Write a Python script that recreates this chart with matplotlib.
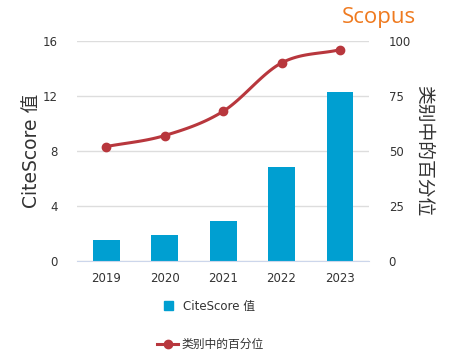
import matplotlib
matplotlib.use("Agg")
import matplotlib.pyplot as plt
from matplotlib.lines import Line2D
from matplotlib.patches import Patch
import numpy as np

plt.rcParams['font.family'] = ['DejaVu Sans', 'Noto Sans CJK SC']

years = ["2019", "2020", "2021", "2022", "2023"]
citescore = [1.5, 1.9, 2.9, 6.8, 12.3]
percentile = [52, 57, 68, 90, 96]

BAR_COLOR = "#009fd1"
LINE_COLOR = "#b8373d"
TEXT_COLOR = "#333333"


def smooth(xs, ys, n=30):
    # catmull-rom style curve through the points, only for drawing
    xs = np.asarray(xs, float)
    ys = np.asarray(ys, float)
    px = np.concatenate([[2 * xs[0] - xs[1]], xs, [2 * xs[-1] - xs[-2]]])
    py = np.concatenate([[2 * ys[0] - ys[1]], ys, [2 * ys[-1] - ys[-2]]])
    outx, outy = [], []
    for i in range(1, len(px) - 2):
        t = np.linspace(0, 1, n)
        for arr, out in ((px, outx), (py, outy)):
            p0, p1, p2, p3 = arr[i - 1], arr[i], arr[i + 1], arr[i + 2]
            out.extend(0.5 * ((2 * p1) + (-p0 + p2) * t
                              + (2 * p0 - 5 * p1 + 4 * p2 - p3) * t ** 2
                              + (-p0 + 3 * p1 - 3 * p2 + p3) * t ** 3))
    return np.array(outx), np.array(outy)


fig = plt.figure(figsize=(4.53, 3.59), dpi=100)
ax = fig.add_axes([0.170, 0.273, 0.645, 0.613])
x = np.arange(len(years))

ax.bar(x, citescore, width=0.46, color=BAR_COLOR, zorder=2)
ax.set_xlim(-0.5, 4.5)
ax.set_ylim(0, 16)
ax.set_yticks([0, 4, 8, 12, 16])
ax.set_xticks(x)
ax.set_xticklabels(years)
ax.grid(axis="y", color="#dddddd", linewidth=1, zorder=0)
for s in ["top", "right", "left"]:
    ax.spines[s].set_visible(False)
ax.spines["bottom"].set_color("#ccd6eb")
ax.tick_params(axis="both", length=0, labelsize=8.5, colors=TEXT_COLOR)
ax.tick_params(axis="y", pad=14)
ax.tick_params(axis="x", pad=8)
ax.set_ylabel("CiteScore 值", fontsize=13.5, color=TEXT_COLOR, labelpad=1)

ax2 = ax.twinx()
ax2.set_ylim(0, 100)
ax2.set_yticks([0, 25, 50, 75, 100])
for s in ["top", "right", "left", "bottom"]:
    ax2.spines[s].set_visible(False)
ax2.tick_params(axis="y", length=0, labelsize=8.5, colors=TEXT_COLOR, pad=14)
sx, sy = smooth(x, percentile)
ax2.plot(sx, sy, color=LINE_COLOR, linewidth=2.2, zorder=3)
ax2.plot(x, percentile, "o", color=LINE_COLOR, markersize=6, zorder=4)
ax2.set_ylabel("类别中的百分位", fontsize=13.5, color=TEXT_COLOR,
               rotation=-90, labelpad=16)

fig.text(0.918, 0.952, "Scopus", color="#ef7a1f", fontsize=16,
         ha="right", va="center", family=["Open Sans", "DejaVu Sans"])

fig.legend(handles=[Patch(color=BAR_COLOR)], labels=["CiteScore 值"],
           loc="center", bbox_to_anchor=(0.462, 0.147), frameon=False,
           fontsize=8.5, handlelength=0.8, handleheight=0.8,
           handletextpad=0.8, labelcolor=TEXT_COLOR)
fig.legend(handles=[Line2D([0], [0], color=LINE_COLOR, lw=2.2, marker="o",
                           markersize=6)],
           labels=["类别中的百分位"], loc="center",
           bbox_to_anchor=(0.465, 0.04), frameon=False, fontsize=8.5,
           handlelength=1.8, handletextpad=0.3, labelcolor=TEXT_COLOR)

fig.savefig("out.png", dpi=100)
